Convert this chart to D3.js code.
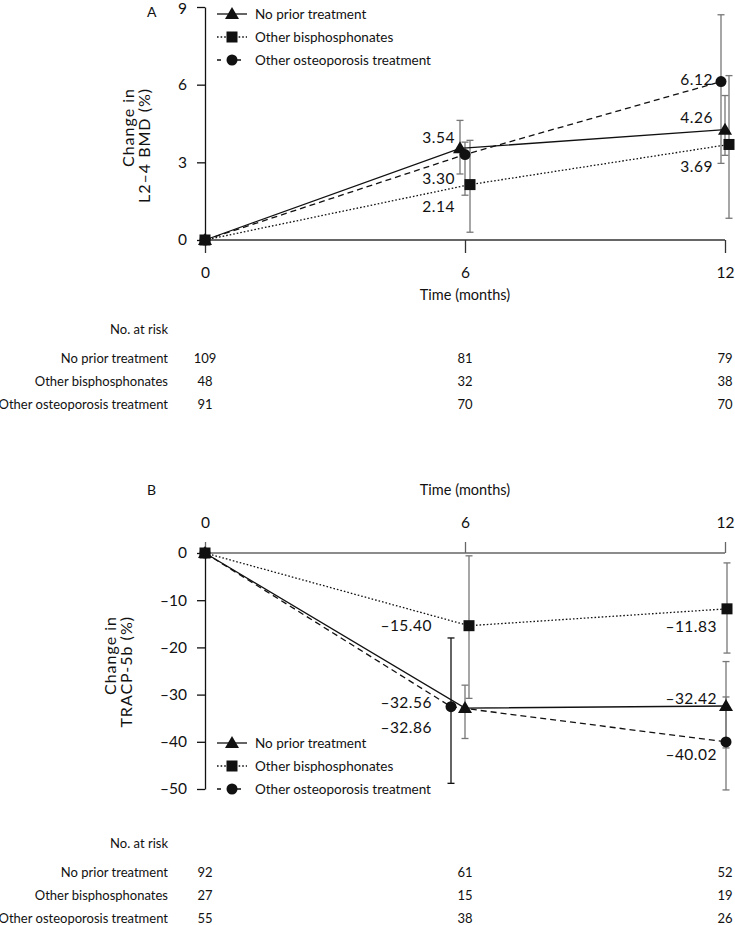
<!DOCTYPE html>
<html>
<head>
<meta charset="utf-8">
<script src="https://cdn.jsdelivr.net/npm/d3@7/dist/d3.min.js"></script>
<style>
  body { margin: 0; background: #fff; }
  svg { display: block; }
  text { font-family: Lato, "DejaVu Sans", sans-serif; fill: #111; }
</style>
</head>
<body>
<svg id="chart" width="735" height="925"></svg>
<script>
// ---- data ----
var months = [0, 6, 12];
var seriesNames = ["No prior treatment", "Other bisphosphonates", "Other osteoporosis treatment"];

// panel A: change in L2-4 BMD (%)
var bmdNoPrior   = [0, 3.54, 4.26];
var bmdBisph     = [0, 2.14, 3.69];
var bmdOther     = [0, 3.30, 6.12];
var bmdNoPriorLo = [0, 2.55, 3.27];
var bmdNoPriorHi = [0, 4.62, 5.58];
var bmdBisphLo   = [0, 0.30, 0.84];
var bmdBisphHi   = [0, 3.85, 6.35];
var bmdOtherLo   = [0, 1.73, 2.96];
var bmdOtherHi   = [0, 3.78, 8.70];
var bmdTicks     = [0, 3, 6, 9];
var bmdRisk      = [[109, 81, 79], [48, 32, 38], [91, 70, 70]];

// panel B: change in TRACP-5b (%)
var trNoPrior    = [0, -32.86, -32.42];
var trBisph      = [0, -15.40, -11.83];
var trOther      = [0, -32.56, -40.02];
var trNoPriorLo  = [0, -39.3, -41.3];
var trNoPriorHi  = [0, -28.0, -23.0];
var trBisphLo    = [0, -30.8, -21.2];
var trBisphHi    = [0, -0.6, -2.1];
var trOtherLo    = [0, -48.8, -50.2];
var trOtherHi    = [0, -18.0, -30.5];
var trTicks      = [0, -10, -20, -30, -40, -50];
var trRisk       = [[92, 61, 52], [27, 15, 19], [55, 38, 26]];

// ---- styles ----
var lineDash = [null, "1.6,2", "6,4"];
var markers  = ["triangle", "square", "circle"];
var dash = function(s) { return s.replace(/[-\u2212]/g, "\u2013"); };
var fmt = d3.format(".2f");

var svg = d3.select("#chart");
var x = d3.scaleLinear().domain([0, 12]).range([205, 725]);

function marker(g, type) {
  if (type === "triangle") {
    g.append("path").attr("d", "M0,-7L7,5L-7,5Z");
  } else if (type === "square") {
    g.append("rect").attr("x", -5.5).attr("y", -5.5).attr("width", 11).attr("height", 11);
  } else {
    g.append("circle").attr("r", 5.5);
  }
  g.selectAll("*").attr("fill", "#111");
}

function drawPanel(p) {
  var y = d3.scaleLinear().domain(p.domain).range(p.range);
  var root = svg.append("g");

  // axes
  var xAxis = (p.top ? d3.axisTop(x) : d3.axisBottom(x))
      .tickValues(months).tickSize(p.top ? 11 : 13).tickSizeOuter(0).tickPadding(14);
  var gx = root.append("g").attr("transform", "translate(0," + y(0) + ")").call(xAxis);
  gx.selectAll("path,line").attr("stroke", p.xColor).attr("stroke-width", 1.3);
  gx.selectAll("text").style("font-size", "15.5px").attr("fill", "#111");
  gx.select(".domain").attr("d", "M" + x(0) + ",0H" + x(12));

  var yAxis = d3.axisLeft(y).tickValues(p.ticks).tickSize(8).tickSizeOuter(0).tickPadding(10)
      .tickFormat(function(d) { return dash(String(d)); });
  var gy = root.append("g").attr("transform", "translate(" + x(0) + ",0)").call(yAxis);
  gy.selectAll("path,line").attr("stroke", "#111").attr("stroke-width", 1.3);
  gy.selectAll("text").style("font-size", "15.5px").attr("fill", "#111");
  // keep the top tick label inside the page
  gy.selectAll(".tick text").filter(function(d) { return y(d) < 12; }).attr("y", 2);

  root.append("text").attr("x", 147).attr("y", p.letterY).style("font-size", "14px").text(p.letter);
  root.append("text").attr("x", x(6)).attr("y", p.timeY).attr("text-anchor", "middle")
      .style("font-size", "14.5px").text("Time (months)");

  p.yTitle.forEach(function(t, i) {
    root.append("text")
      .attr("transform", "translate(" + (p.yTitleX + i * 16) + "," + p.yTitleTop + ") rotate(-90)")
      .attr("text-anchor", "end").style("font-size", "16px").style("letter-spacing", "1px")
      .text(t);
  });

  var px = function(s, i) { return x(months[i]) + p.nudge[s][i]; };

  // error bars
  p.series.forEach(function(sv, s) {
    months.forEach(function(m, i) {
      if (i === 0) return;
      var cx = px(s, i), col = (p.errBlack[s] === i) ? "#111" : "#777";
      var eb = root.append("g").attr("stroke", col).attr("stroke-width", 1.3);
      eb.append("line").attr("x1", cx).attr("x2", cx).attr("y1", y(p.lo[s][i])).attr("y2", y(p.hi[s][i]));
      [p.lo[s][i], p.hi[s][i]].forEach(function(v) {
        eb.append("line").attr("x1", cx - 3.5).attr("x2", cx + 3.5).attr("y1", y(v)).attr("y2", y(v));
      });
    });
  });

  // lines
  var line = d3.line();
  p.series.forEach(function(sv, s) {
    root.append("path")
      .attr("d", line(sv.map(function(v, i) { return [px(s, i), y(v)]; })))
      .attr("fill", "none").attr("stroke", "#111").attr("stroke-width", 1.3)
      .attr("stroke-dasharray", lineDash[s]);
  });

  // markers and value labels
  p.series.forEach(function(sv, s) {
    sv.forEach(function(v, i) {
      var g = root.append("g").attr("transform", "translate(" + px(s, i) + "," + y(v) + ")");
      marker(g, markers[s]);
      if (i === 0) return;
      var off = p.labelOff[s][i];
      root.append("text")
        .attr("x", x(months[i]) + off[0]).attr("y", y(v) + off[1])
        .attr("dy", "0.36em").attr("text-anchor", "end")
        .style("font-size", "15.5px").style("letter-spacing", "0.5px")
        .text(dash(fmt(v)));
    });
  });

  // legend
  seriesNames.forEach(function(name, s) {
    var ly = p.legendY + s * 23;
    root.append("line").attr("x1", 217).attr("x2", 247).attr("y1", ly).attr("y2", ly)
      .attr("stroke", "#111").attr("stroke-width", 1.3)
      .attr("stroke-dasharray", s === 2 ? "4,6" : lineDash[s]);
    marker(root.append("g").attr("transform", "translate(232," + ly + ")"), markers[s]);
    root.append("text").attr("x", 255).attr("y", ly).attr("dy", "0.36em")
      .style("font-size", "13.5px").text(name);
  });

  // number at risk
  root.append("text").attr("x", 168).attr("y", p.riskY).attr("dy", "0.36em")
    .attr("text-anchor", "end").style("font-size", "13px").text("No. at risk");
  seriesNames.forEach(function(name, s) {
    var ry = p.riskY + 29 + s * 23;
    root.append("text").attr("x", 168).attr("y", ry).attr("dy", "0.36em")
      .attr("text-anchor", "end").style("font-size", "13px").text(name);
    p.risk[s].forEach(function(n, i) {
      root.append("text").attr("x", x(months[i])).attr("y", ry).attr("dy", "0.36em")
        .attr("text-anchor", "middle").style("font-size", "13px").text(n);
    });
  });
}

drawPanel({
  letter: "A", letterY: 17, top: false, xColor: "#333",
  domain: [0, 9], range: [240, 7], ticks: bmdTicks,
  series: [bmdNoPrior, bmdBisph, bmdOther],
  lo: [bmdNoPriorLo, bmdBisphLo, bmdOtherLo],
  hi: [bmdNoPriorHi, bmdBisphHi, bmdOtherHi],
  nudge: [[0, -5, 0], [0, 5, 4], [0, 0, -4]],
  errBlack: [-1, -1, -1],
  labelOff: [[null, [-10, -11], [-12, -12]], [null, [-10, 22], [-12, 22]], [null, [-10, 24], [-12, -2]]],
  timeY: 300, yTitle: ["Change in", "L2\u20134 BMD (%)"], yTitleX: 134, yTitleTop: 88,
  legendY: 14, riskY: 329, risk: bmdRisk
});

drawPanel({
  letter: "B", letterY: 495, top: true, xColor: "#666",
  domain: [-50, 0], range: [789, 553], ticks: trTicks,
  series: [trNoPrior, trBisph, trOther],
  lo: [trNoPriorLo, trBisphLo, trOtherLo],
  hi: [trNoPriorHi, trBisphHi, trOtherHi],
  nudge: [[0, 0, 1], [0, 4, 2], [0, -14, 1]],
  errBlack: [-1, -1, 1],
  labelOff: [[null, [-33, 19], [-8, -8]], [null, [-33, 0], [-8, 18]], [null, [-33, -4], [-8, 13]]],
  timeY: 495, yTitle: ["Change in", "TRACP-5b (%)"], yTitleX: 116, yTitleTop: 616,
  legendY: 743, riskY: 843, risk: trRisk
});
</script>
</body>
</html>
